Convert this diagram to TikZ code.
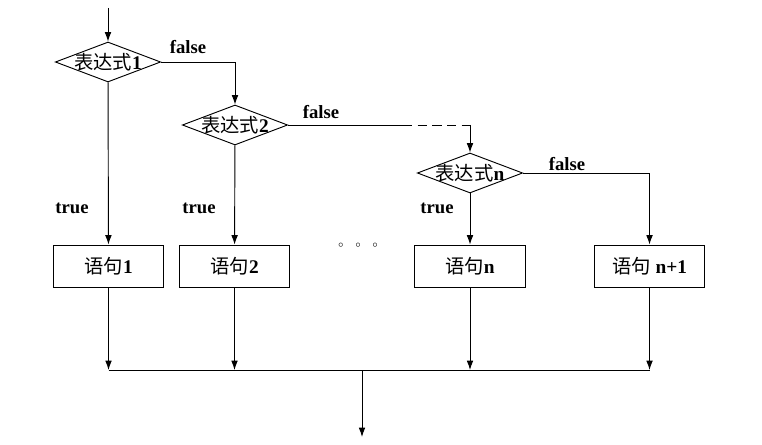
\documentclass[tikz,border=0pt]{standalone}
\usepackage{fontspec}
\setmainfont{Liberation Serif}
\newfontfamily\cjk{Noto Sans CJK SC}
\usetikzlibrary{shapes.geometric, arrows.meta}

\begin{document}
\begin{tikzpicture}[x=0.75pt, y=-0.75pt, >={Latex[length=7pt, width=5pt]}, line width=0.7pt]
    \tikzset{
        cond/.style={diamond, draw, aspect=3.2, inner sep=-6pt, minimum width=79pt, minimum height=30pt, font=\fontsize{14.5}{15}\selectfont},
        stmt/.style={rectangle, draw, minimum width=83pt, minimum height=31.5pt, inner sep=0pt, font=\fontsize{14.5}{15}\selectfont},
        lbl/.style={font=\bfseries\fontsize{14}{15}\selectfont, inner sep=0pt}
    }
    \useasboundingbox (0,0) rectangle (762,445);

    \coordinate (start) at (108,8);
    \node[cond] (d1) at (108,62) {{\cjk 表达式}\textbf{1}};
    \node[cond] (d2) at (235,125) {{\cjk 表达式}\textbf{2}};
    \node[cond] (dn) at (470,173) {{\cjk 表达式}\textbf{n}};

    \node[stmt] (s1) at (108.5,266) {{\cjk 语句}\textbf{1}};
    \node[stmt] (s2) at (234.5,266) {{\cjk 语句}\textbf{2}};
    \node[stmt] (sn) at (470,266) {{\cjk 语句}\textbf{n}};
    \node[stmt] (sn1) at (649.5,266) {{\cjk 语句} \textbf{n+1}};
    \node[inner sep=0pt] (dots) at (358,245) {\fontsize{7}{7}\selectfont$\circ\quad\circ\quad\circ$};

    \node[lbl] (f1) at (188,47) {false};
    \node[lbl] (f2) at (321,112) {false};
    \node[lbl] (f3) at (567,164) {false};
    \node[lbl] (t1) at (72,208) {true};
    \node[lbl] (t2) at (199,208) {true};
    \node[lbl] (tn) at (437,208) {true};

    \coordinate (gap) at (403,125);
    \coordinate (joinl) at (108.5,370);
    \coordinate (joinr) at (649.5,370);
    \coordinate (joinc) at (362,370);
    \coordinate (end) at (362,437);

    \draw[->] (start) -- (d1);
    \draw[->] (d1) -- (s1);
    \draw[->] (d2) -- (s2);
    \draw[->] (dn) -- (sn);
    \draw[->] (d1.east) -| (d2.north);
    \draw (d2.east) -- (gap);
    \draw[dashed, dash pattern=on 7pt off 4pt] (gap) -- (dn.north |- gap);
    \draw[->] (dn.north |- gap) -- (dn.north);
    \draw[->] (dn.east) -| (sn1.north);

    \draw[->] (s1.south) -- (joinl);
    \draw[->] (s2.south) -- (s2.south |- joinl);
    \draw[->] (sn.south) -- (sn.south |- joinl);
    \draw[->] (sn1.south) -- (joinr);
    \draw (joinl) -- (joinr);
    \draw[->] (joinc) -- (end);
\end{tikzpicture}
\end{document}
